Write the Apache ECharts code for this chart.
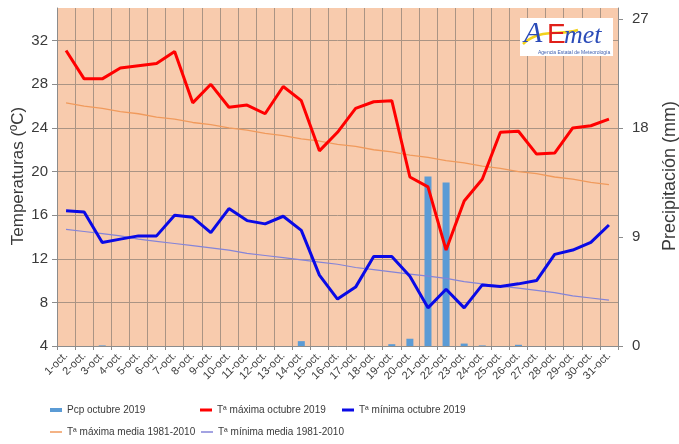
<!DOCTYPE html>
<html>
<head>
<meta charset="utf-8">
<script src="https://cdn.jsdelivr.net/npm/echarts@6/dist/echarts.min.js"></script>
<style>
html,body{margin:0;padding:0;background:#ffffff;}
#chart{width:679px;height:444px;}
</style>
</head>
<body>
<div id="chart"></div>
<script>
const categories = ['1-oct.','2-oct.','3-oct.','4-oct.','5-oct.','6-oct.','7-oct.','8-oct.','9-oct.','10-oct.',
  '11-oct.','12-oct.','13-oct.','14-oct.','15-oct.','16-oct.','17-oct.','18-oct.','19-oct.','20-oct.',
  '21-oct.','22-oct.','23-oct.','24-oct.','25-oct.','26-oct.','27-oct.','28-oct.','29-oct.','30-oct.','31-oct.'];
const pcp = [0, 0, 0.05, 0, 0, 0, 0, 0, 0, 0, 0, 0, 0, 0.4, 0, 0, 0, 0, 0.15, 0.6,
  14.0, 13.5, 0.2, 0.05, 0, 0.1, 0, 0, 0, 0, 0];
const tmax = [31.1, 28.5, 28.5, 29.5, 29.7, 29.9, 31.0, 26.3, 28.0, 25.9, 26.1, 25.3, 27.8, 26.5, 21.9, 23.6,
  25.8, 26.4, 26.5, 19.5, 18.6, 12.8, 17.3, 19.3, 23.6, 23.7, 21.6, 21.7, 24.0, 24.2, 24.8];
const tmin = [16.4, 16.3, 13.5, 13.8, 14.1, 14.1, 16.0, 15.8, 14.4, 16.6, 15.5, 15.2, 15.9, 14.6, 10.5, 8.3,
  9.4, 12.2, 12.2, 10.4, 7.5, 9.2, 7.5, 9.6, 9.45, 9.7, 10.0, 12.4, 12.8, 13.5, 15.1];
const tmaxMedia = [26.3, 26.0, 25.8, 25.5, 25.3, 25.0, 24.8, 24.5, 24.3, 24.0, 23.8, 23.5, 23.3, 23.0, 22.8, 22.5,
  22.3, 22.0, 21.8, 21.5, 21.3, 21.0, 20.8, 20.5, 20.3, 20.0, 19.8, 19.5, 19.3, 19.0, 18.8];
const tminMedia = [14.7, 14.5, 14.3, 14.1, 13.8, 13.6, 13.4, 13.2, 13.0, 12.8, 12.5, 12.3, 12.1, 11.9, 11.7, 11.5,
  11.2, 11.0, 10.8, 10.6, 10.4, 10.2, 9.9, 9.7, 9.5, 9.3, 9.1, 8.9, 8.6, 8.4, 8.2];
const tempTicks = { min: 4, max: 35, interval: 4 };
const pcpTicks = { min: 0, max: 27.9, interval: 9 };
const names = ['Pcp octubre 2019', 'Tª máxima octubre 2019', 'Tª mínima octubre 2019',
  'Tª máxima media 1981-2010', 'Tª mínima media 1981-2010'];

const FONT = '"Liberation Sans", Arial, sans-serif';
const TXT = '#3a3a3a';
const GRID = '#aa9484';
const AXIS = '#8c8c8c';

function leg(name, left, top, h) {
  return {
    data: [name], left: left, top: top, icon: 'rect', itemWidth: 12, itemHeight: h,
    padding: 0, selectedMode: false,
    textStyle: { fontFamily: FONT, fontSize: 10, color: TXT }
  };
}

const chart = echarts.init(document.getElementById('chart'), null, { renderer: 'canvas' });
chart.setOption({
  animation: false,
  backgroundColor: '#ffffff',
  grid: { left: 57, right: 61, top: 8, bottom: 98, show: true, backgroundColor: '#F8CBAD', borderWidth: 0 },
  legend: [
    leg(names[0], 50, 405, 4),
    leg(names[1], 200, 405, 3),
    leg(names[2], 342, 405, 3),
    leg(names[3], 50, 427, 1.5),
    leg(names[4], 201, 427, 1.5)
  ],
  xAxis: {
    type: 'category', data: categories, boundaryGap: true,
    axisLine: { show: true, lineStyle: { color: AXIS } },
    axisTick: { show: true, length: 4, lineStyle: { color: AXIS } },
    axisLabel: { interval: 0, rotate: 45, fontSize: 11, margin: 8, color: TXT, fontFamily: FONT },
    splitLine: { show: true, lineStyle: { color: GRID, width: 1 } }
  },
  yAxis: [
    {
      type: 'value', position: 'left', min: tempTicks.min, max: tempTicks.max, interval: tempTicks.interval,
      axisLine: { show: true, lineStyle: { color: AXIS } },
      axisTick: { show: true, length: 5, lineStyle: { color: AXIS } },
      axisLabel: { showMaxLabel: false, fontSize: 15, margin: 9, color: TXT, fontFamily: FONT },
      splitLine: { show: true, lineStyle: { width: 1,
        color: [GRID, GRID, GRID, GRID, GRID, GRID, GRID, GRID, 'rgba(0,0,0,0)'] } }
    },
    {
      type: 'value', position: 'right', min: pcpTicks.min, max: pcpTicks.max, interval: pcpTicks.interval,
      axisLine: { show: true, lineStyle: { color: AXIS } },
      axisTick: { show: true, length: 5, lineStyle: { color: AXIS } },
      axisLabel: { showMaxLabel: false, fontSize: 15, margin: 14, color: TXT, fontFamily: FONT },
      splitLine: { show: false }
    }
  ],
  series: [
    { name: names[0], type: 'bar', yAxisIndex: 1, data: pcp, barWidth: 7, itemStyle: { color: '#5B9BD5' } },
    { name: names[3], type: 'line', data: tmaxMedia, symbol: 'none', lineStyle: { color: '#F09A5C', width: 1.3 }, itemStyle: { color: '#F09A5C' } },
    { name: names[4], type: 'line', data: tminMedia, symbol: 'none', lineStyle: { color: '#8484D8', width: 1.2 }, itemStyle: { color: '#8484D8' } },
    { name: names[1], type: 'line', data: tmax, symbol: 'none', lineStyle: { color: '#FF0000', width: 3 }, itemStyle: { color: '#FF0000' } },
    { name: names[2], type: 'line', data: tmin, symbol: 'none', lineStyle: { color: '#0A0AE6', width: 3 }, itemStyle: { color: '#0A0AE6' } }
  ],
  graphic: [
    { type: 'text', x: 18, y: 176, rotation: Math.PI / 2,
      style: { text: 'Temperaturas (ºC)', font: '17px ' + FONT, fill: TXT, textAlign: 'center', textVerticalAlign: 'middle' } },
    { type: 'text', x: 670, y: 176, rotation: Math.PI / 2,
      style: { text: 'Precipitación (mm)', font: '18px ' + FONT, fill: TXT, textAlign: 'center', textVerticalAlign: 'middle' } },
    { type: 'rect', shape: { x: 520, y: 18, width: 93, height: 38 }, style: { fill: '#ffffff' }, z: 100 },
    { type: 'bezierCurve', shape: { x1: 523, y1: 44, x2: 578, y2: 30, cpx1: 540, cpy1: 28, cpx2: 560, cpy2: 36 },
      style: { stroke: '#F2D21B', lineWidth: 2.5, fill: null }, z: 101 },
    { type: 'text', x: 524, y: 19, z: 102,
      style: { text: 'A', font: 'italic 30px "Liberation Serif", serif', fill: '#2a4bb8' } },
    { type: 'text', x: 547, y: 21, z: 102,
      style: { text: 'E', font: '28px "Liberation Sans", sans-serif', fill: '#E0201A' } },
    { type: 'text', x: 564, y: 23, z: 102,
      style: { text: 'met', font: 'italic 26px "Liberation Serif", serif', fill: '#2a4bb8' } },
    { type: 'text', x: 538, y: 50, z: 102,
      style: { text: 'Agencia Estatal de Meteorología', font: '5px ' + FONT, fill: '#4060b0' } }
  ]
});
</script>
</body>
</html>
